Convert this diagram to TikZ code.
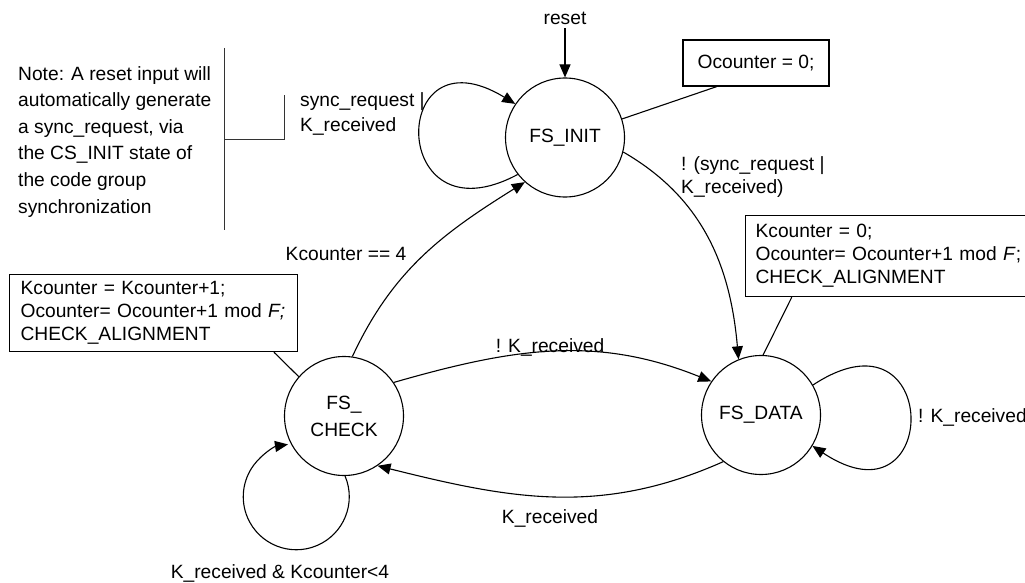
\documentclass[tikz,border=0pt]{standalone}
\usepackage{fontspec}
\setmainfont{Liberation Sans}
\usetikzlibrary{arrows.meta}
\begin{document}
\begin{tikzpicture}[x=1pt,y=1pt,
  every node/.style={font=\fontsize{19.2}{23}\selectfont, inner sep=0pt},
  state/.style={draw, circle, minimum size=119pt, line width=1.1pt, align=center},
  arr/.style={line width=1.1pt, -{Triangle[length=13pt,width=11pt]}},
  lnk/.style={line width=1.1pt},
  noteline/.style={line width=0.9pt, black!80},
  actbox/.style={draw, line width=1.2pt, align=left, inner xsep=11pt, inner ysep=0pt},
  lbl/.style={align=left}
]
\useasboundingbox (0,0) rectangle (1025,-583);

% states
\node[state] (init) at (565,-137.5) {FS\_INIT};
\node[state, font=\fontsize{19.2}{27}\selectfont] (check) at (344,-416) {FS\_\\CHECK};
\node[state] (data) at (761,-415) {FS\_DATA};

% action boxes
\node[actbox, align=center, minimum width=146pt, minimum height=46pt] (ocbox) at (756,-63) {Ocounter = 0;};
\node[actbox, inner xsep=10pt, text width=266pt, minimum height=81pt, anchor=north west] (databox) at (745,-215)
  {Kcounter = 0;\\Ocounter= Ocounter+1 mod \textit{F};\\CHECK\_ALIGNMENT};
\node[actbox, text width=266pt, minimum height=77pt, anchor=north west] (checkbox) at (9,-274)
  {Kcounter = Kcounter+1;\\Ocounter= Ocounter+1 mod \textit{F;}\\CHECK\_ALIGNMENT};

% note
\node[lbl, anchor=north west, font=\fontsize{19.2}{26.6}\selectfont] (note) at (18,-66)
  {Note: A reset input will\\automatically generate\\a sync\_request, via\\the CS\_INIT state of\\the code group\\synchronization};
\coordinate (vtop) at (224,-48);
\coordinate (vbot) at (224,-230);
\coordinate (hj) at (224,-139);
\coordinate (htop) at (284,-95);
\draw[noteline] (vtop) -- (vbot);
\draw[noteline] (hj) -| (htop);

% labels
\node (reset) [inner ysep=3pt] at (565,-18.6) {reset};
\node[lbl, anchor=north west, font=\fontsize{19.2}{25}\selectfont] (synclbl) at (300,-92) {sync\_request |\\K\_received};
\node[lbl, anchor=north west, font=\fontsize{19.2}{23.3}\selectfont] (nsynclbl) at (681,-156) {! (sync\_request |\\K\_received)};
\node (kc4) at (346,-254) {Kcounter == 4};
\node (nkr1) at (550,-347) {! K\_received};
\node (kr1) at (550,-518) {K\_received};
\node[anchor=west] (nkr2) at (918,-417.5) {! K\_received};
\node (krkc) at (280,-573) {K\_received \& Kcounter<4};

% connectors
\draw[arr] (reset) -- (init);
\draw[lnk] (ocbox.-149) -- (init.18);
\draw[lnk] (databox.-157) -- (data.88);
\draw[lnk] (checkbox.-18) -- (check.139);

\draw[arr] (init.218) .. controls (388,-244) and (388,-26) .. (init.146);
\draw[arr] (init.-14) to[out=-30, in=95] (data.112);
\draw[arr] (check.82) to[out=65, in=212] (init.228);
\draw[arr] (check.34) to[out=16, in=158] (data.146);
\draw[arr] (data.231) to[out=204, in=-14] (check.-56);
\draw[arr] (data.30) .. controls (942,-300) and (942,-532) .. (data.-31);
\draw[arr] (check.-89) arc[start angle=23, end angle=-261, radius=53];
\end{tikzpicture}
\end{document}
